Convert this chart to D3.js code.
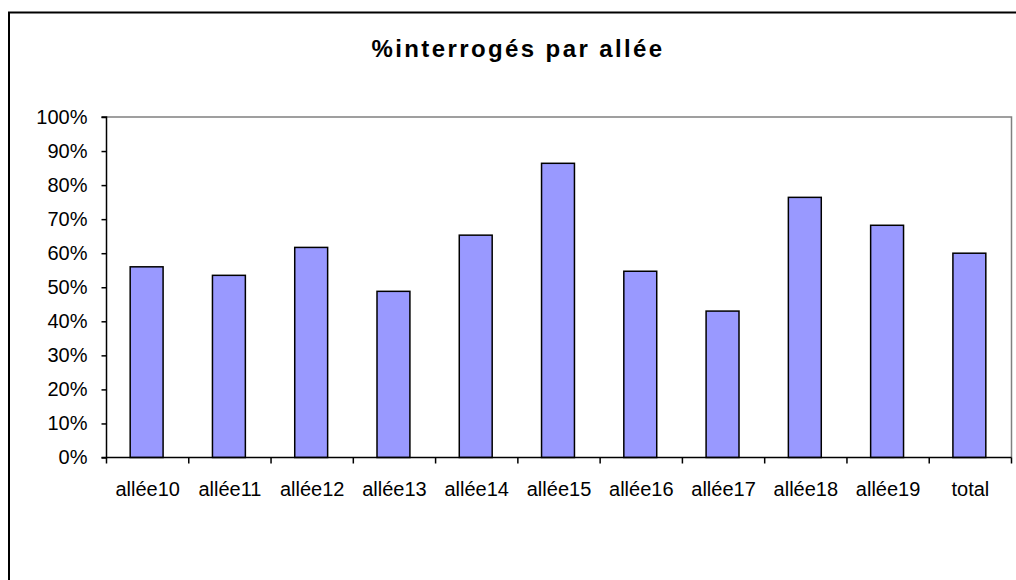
<!DOCTYPE html>
<html>
<head>
<meta charset="utf-8">
<script src="https://cdn.jsdelivr.net/npm/d3@7"></script>
<style>
  html, body { margin: 0; padding: 0; background: #fff; }
  svg { display: block; font-family: "Liberation Sans", Arial, sans-serif; }
</style>
</head>
<body>
<svg id="chart" width="1016" height="580"></svg>
<script>
const categories = ["allée10","allée11","allée12","allée13","allée14","allée15","allée16","allée17","allée18","allée19","total"];
const values = [0.56, 0.535, 0.617, 0.488, 0.653, 0.864, 0.547, 0.43, 0.764, 0.682, 0.60];
const yTicks = [0, 0.1, 0.2, 0.3, 0.4, 0.5, 0.6, 0.7, 0.8, 0.9, 1.0];
const title = "%interrogés par allée";

const svg = d3.select("#chart");
const plot = { left: 106.5, right: 1011.5, top: 117, bottom: 457.5 };
const FONT = "Liberation Sans, Arial, sans-serif";

// outer chart border
svg.append("rect")
  .attr("x", 9).attr("y", 12.5)
  .attr("width", 1200).attr("height", 800)
  .attr("fill", "#fff").attr("stroke", "#000").attr("stroke-width", 2);

// title
svg.append("text")
  .attr("x", 518).attr("y", 57)
  .attr("text-anchor", "middle")
  .attr("font-size", 24).attr("font-weight", "bold")
  .attr("letter-spacing", 2.4)
  .attr("font-family", FONT)
  .text(title);

const xb = d3.scaleBand().domain(categories).range([plot.left, plot.right]);
const y = d3.scaleLinear().domain([0, 1]).range([plot.bottom, plot.top]);

// plot area border (gray top/right)
svg.append("path")
  .attr("d", `M${plot.left},${plot.top}H${plot.right}V${plot.bottom}`)
  .attr("fill", "none").attr("stroke", "#808080").attr("stroke-width", 1.5);

// bars
const bw = xb.bandwidth() * 0.4;
svg.append("g").selectAll("rect").data(categories).join("rect")
  .attr("x", (d) => xb(d) + xb.bandwidth() / 2 - bw / 2 - 1)
  .attr("y", (d, i) => y(values[i]))
  .attr("width", bw)
  .attr("height", (d, i) => y(0) - y(values[i]))
  .attr("fill", "#9999FF")
  .attr("stroke", "#000").attr("stroke-width", 1.5);

// y axis
const yAxis = d3.axisLeft(y).tickValues(yTicks).tickFormat(d3.format(".0%")).tickSize(5).tickPadding(14);
const gy = svg.append("g").attr("transform", `translate(${plot.left},0)`).call(yAxis);
gy.select(".domain").attr("stroke", "#000").attr("stroke-width", 1.5).attr("d", `M-5,${plot.top}H0V${plot.bottom}H-5`);
gy.selectAll(".tick line").attr("stroke", "#000").attr("stroke-width", 1.5);
gy.selectAll(".tick text").attr("font-size", 20).attr("fill", "#000").attr("font-family", FONT);

// x axis
const xAxis = d3.axisBottom(xb).tickSize(0).tickPadding(24);
const gx = svg.append("g").attr("transform", `translate(0,${plot.bottom})`).call(xAxis);
gx.select(".domain").attr("stroke", "#000").attr("stroke-width", 1.5).attr("d", `M${plot.left},0H${plot.right}`);
gx.selectAll(".tick text").attr("font-size", 20).attr("fill", "#000").attr("font-family", FONT);
// category boundary ticks
const bounds = categories.map(c => xb(c)).concat([plot.right]);
gx.append("g").selectAll("line").data(bounds).join("line")
  .attr("x1", d => d).attr("x2", d => d)
  .attr("y1", 0).attr("y2", 6)
  .attr("stroke", "#000").attr("stroke-width", 1.5);
</script>
</body>
</html>
